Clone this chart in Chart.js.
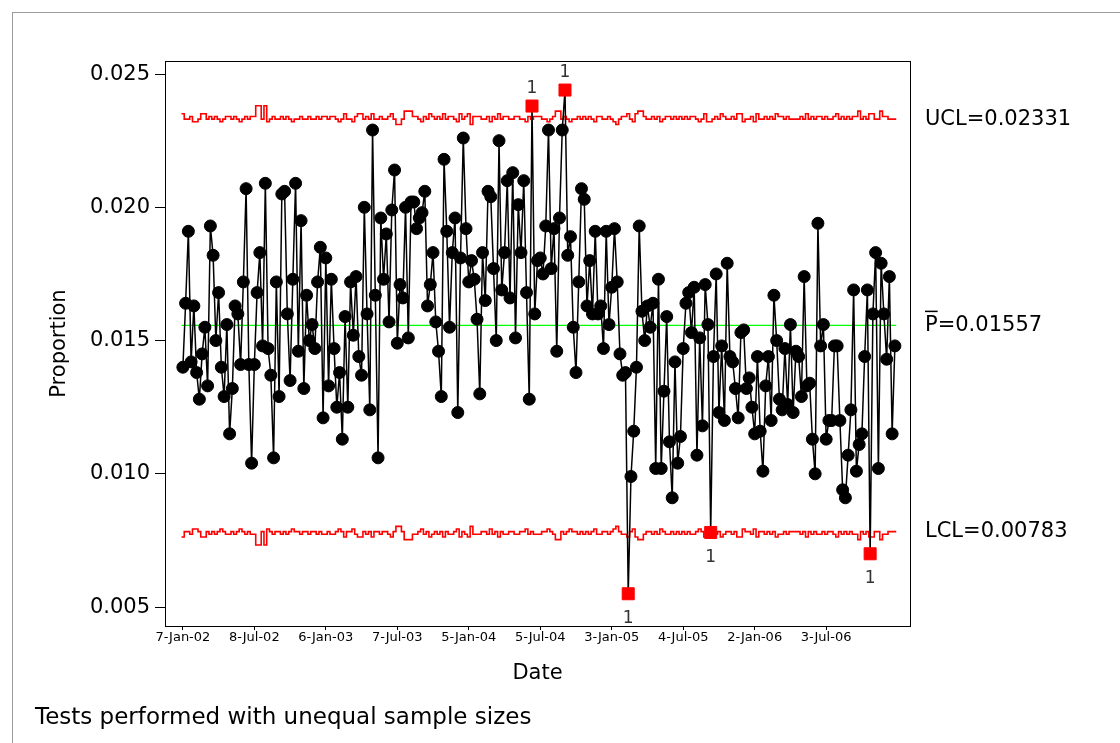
<!DOCTYPE html>
<html>
<head>
<meta charset="utf-8">
<script src="https://cdn.jsdelivr.net/npm/chart.js@4.4.0/dist/chart.umd.min.js"></script>
<style>
  html, body { margin: 0; padding: 0; background: #fff; }
  #wrap { position: relative; width: 1120px; height: 743px; overflow: hidden; }
  #frame { position: absolute; left: 12px; top: 12px; width: 1120px; height: 743px; border: 1px solid #9a9a9a; box-sizing: border-box; }
  #chart { position: absolute; left: 0; top: 0; }
  #note { position: absolute; left: 35px; top: 703px; font: 23px "DejaVu Sans"; color: #000; }
</style>
</head>
<body>
<div id="wrap">
  <div id="frame"></div>
  <canvas id="chart" width="1120" height="743"></canvas>
  <div id="note">Tests performed with unequal sample sizes</div>
</div>
<script>
// weekly samples, 7-Jan-02 onwards
const tickWeeks = [0, 26, 52, 78, 104, 130, 156, 182, 208, 234];
const tickLabels = ['7-Jan-02', '8-Jul-02', '6-Jan-03', '7-Jul-03', '5-Jan-04',
  '5-Jul-04', '3-Jan-05', '4-Jul-05', '2-Jan-06', '3-Jul-06'];
const yTickValues = [0.005, 0.010, 0.015, 0.020, 0.025];

const proportion = [
  0.0140, 0.0164, 0.0191, 0.0142, 0.0163, 0.0138, 0.0128, 0.0145, 0.0155, 0.0133,
  0.0193, 0.0182, 0.0150, 0.0168, 0.0140, 0.0129, 0.0156, 0.0115, 0.0132, 0.0163,
  0.0160, 0.0141, 0.0172, 0.0207, 0.0141, 0.0104, 0.0141, 0.0168, 0.0183, 0.0148,
  0.0209, 0.0147, 0.0137, 0.0106, 0.0172, 0.0129, 0.0205, 0.0206, 0.0160, 0.0135,
  0.0173, 0.0209, 0.0146, 0.0195, 0.0132, 0.0167, 0.0150, 0.0156, 0.0147, 0.0172,
  0.0185, 0.0121, 0.0181, 0.0133, 0.0173, 0.0147, 0.0125, 0.0138, 0.0113, 0.0159,
  0.0125, 0.0172, 0.0152, 0.0174, 0.0144, 0.0137, 0.0200, 0.0160, 0.0124, 0.0229,
  0.0167, 0.0106, 0.0196, 0.0173, 0.0190, 0.0157, 0.0199, 0.0214, 0.0149, 0.0171,
  0.0166, 0.0200, 0.0151, 0.0202, 0.0202, 0.0192, 0.0196, 0.0198, 0.0206, 0.0163,
  0.0171, 0.0183, 0.0157, 0.0146, 0.0129, 0.0218, 0.0191, 0.0155, 0.0183, 0.0196,
  0.0123, 0.0181, 0.0226, 0.0192, 0.0172, 0.0180, 0.0173, 0.0158, 0.0130, 0.0183,
  0.0165, 0.0206, 0.0204, 0.0177, 0.0150, 0.0225, 0.0169, 0.0183, 0.0210, 0.0166,
  0.0213, 0.0151, 0.0201, 0.0183, 0.0210, 0.0168, 0.0128, 0.0238, 0.0160, 0.0180,
  0.0181, 0.0175, 0.0193, 0.0229, 0.0177, 0.0192, 0.0146, 0.0196, 0.0229, 0.0244,
  0.0182, 0.0189, 0.0155, 0.0138, 0.0172, 0.0207, 0.0203, 0.0163, 0.0180, 0.0160,
  0.0191, 0.0160, 0.0163, 0.0147, 0.0191, 0.0156, 0.0170, 0.0192, 0.0172, 0.0145,
  0.0137, 0.0138, 0.0055, 0.0099, 0.0116, 0.0140, 0.0193, 0.0161, 0.0150, 0.0163,
  0.0155, 0.0164, 0.0102, 0.0173, 0.0102, 0.0131, 0.0159, 0.0112, 0.0091, 0.0142,
  0.0104, 0.0114, 0.0147, 0.0164, 0.0168, 0.0153, 0.0170, 0.0107, 0.0151, 0.0118,
  0.0171, 0.0156, 0.0078, 0.0144, 0.0175, 0.0123, 0.0148, 0.0120, 0.0179, 0.0144,
  0.0142, 0.0132, 0.0121, 0.0153, 0.0154, 0.0132, 0.0136, 0.0125, 0.0115, 0.0144,
  0.0116, 0.0101, 0.0133, 0.0144, 0.0120, 0.0167, 0.0150, 0.0128, 0.0124, 0.0147,
  0.0126, 0.0156, 0.0123, 0.0146, 0.0144, 0.0129, 0.0174, 0.0133, 0.0134, 0.0113,
  0.0100, 0.0194, 0.0148, 0.0156, 0.0113, 0.0120, 0.0120, 0.0148, 0.0148, 0.0120,
  0.0094, 0.0091, 0.0107, 0.0124, 0.0169, 0.0101, 0.0111, 0.0115, 0.0144, 0.0169,
  0.0070, 0.0160, 0.0183, 0.0102, 0.0179, 0.0160, 0.0143, 0.0174, 0.0115, 0.0148
];

// how far each sample's limits sit from the nominal ones (units of 0.0001)
const limitSpread = [
  2, 2, 0, 0, 1, -1, -1, 0, 2, 2, 0, 1, 0, 1, 0, -1, 0, 1, 1, 0, 1,
  0, -1, 0, 1, 0, 1, 1, 5, 5, 0, 5, -1, 0, 1, 0, 0, 1, 0, 1, 0, -1, 0, 0, 1, 0,
  0, 1, 0, 0, 1, 0, 1, 1, 0, 1, 1, 0, -1, 0, 2, 0, 0, -1, 1, 2, 2, 0, 1, 0, 2,
  0, 0, 1, 0, 0, 1, 2, 0, -2, -2, 0, 3, 3, 3, 1, 1, 0, -1, 1, 0, 2, 1, 0, 1, 0,
  2, 0, 1, 1, 0, -1, 2, 0, 1, 2, -2, 1, 1, 1, 0, 0, 1, -1, 1, 0, 2, 0, 1, 1, 0,
  0, 1, 1, 0, 0, -1, 1, 0, 1, 1, 1, 0, 0, -1, 0, 1, 3, 3, 0, 1, 0, -1, 0, 0, 1,
  0, 1, 0, 1, 0, -1, 1, 1, 0, 0, 1, 0, -1, -2, 0, 1, 1, 2, 0, -1, 2, 3, 3, 1, 0,
  0, 1, 0, 1, -1, 0, 1, 1, 0, 1, 0, 1, 0, 1, 0, 1, 1, 0, -1, 0, 2, -1, -1, 0, 1,
  0, 2, 1, 0, 0, 1, 0, 2, 2, -1, 0, 0, 1, -1, 2, 0, 0, 1, 0, 1, 0, 2, 1, 1, 0,
  1, 0, 0, 0, 0, 1, 0, 2, 0, 1, 0, 1, 1, 0, 1, 0, 0, 1, 2, 0, 1, 0, 1, 0, 1,
  1, 3, 0, 1, 0, 2, 2, 0, 0, 3, 1, 1, 0, 0
];

const pBar = 0.01557;
const ucl = 0.02331;
const lcl = 0.00783;

const FONT = 'DejaVu Sans';

/* ================= SERIES ================= */
const n = proportion.length;
const points = proportion.map((v, i) => ({ x: i, y: v }));

const uclLine = [], lclLine = [], centerLine = [];
for (let i = 0; i <= n; i++) {
  const s = (limitSpread[Math.min(i, n - 1)] || 0) * 0.0001;
  uclLine.push({ x: i - 0.5, y: ucl + s });
  lclLine.push({ x: i - 0.5, y: lcl - s });
  centerLine.push({ x: i - 0.5, y: pBar });
}

const outOfControl = proportion.map((v, i) => {
  const s = (limitSpread[i] || 0) * 0.0001;
  if (v > ucl + s) return 'up';
  if (v < lcl - s) return 'down';
  return null;
});

/* ================= PLUGINS ================= */
const decorPlugin = {
  id: 'decor',
  afterDatasetsDraw(chart) {
    const { ctx, chartArea: a, scales: { x, y } } = chart;
    ctx.save();

    // frame round the plot
    ctx.strokeStyle = '#000';
    ctx.lineWidth = 1;
    ctx.strokeRect(a.left + 0.5, a.top + 0.5, a.right - a.left, a.bottom - a.top);

    // "1" flags at the out-of-control points
    ctx.font = '17px "' + FONT + '"';
    ctx.fillStyle = '#333';
    ctx.textAlign = 'center';
    ctx.textBaseline = 'middle';
    outOfControl.forEach((dir, i) => {
      if (!dir) return;
      const px = x.getPixelForValue(i);
      const py = y.getPixelForValue(proportion[i]);
      ctx.fillText('1', px, dir === 'up' ? py - 17 : py + 25);
    });

    // limit labels to the right
    ctx.font = '21px "' + FONT + '"';
    ctx.fillStyle = '#000';
    ctx.textAlign = 'left';
    const lx = a.right + 15;
    ctx.fillText('UCL=' + ucl.toFixed(5), lx, y.getPixelForValue(ucl));
    ctx.fillText('LCL=' + lcl.toFixed(5), lx, y.getPixelForValue(lcl));
    const py = y.getPixelForValue(pBar);
    ctx.fillText('P=' + pBar.toFixed(5), lx, py);
    const pw = ctx.measureText('P').width;
    ctx.beginPath();
    ctx.lineWidth = 1.5;
    ctx.moveTo(lx, py - 14);
    ctx.lineTo(lx + pw, py - 14);
    ctx.stroke();

    ctx.restore();
  }
};

/* ================= CHART ================= */
new Chart(document.getElementById('chart').getContext('2d'), {
  type: 'line',
  data: {
    datasets: [
      {
        data: points,
        borderColor: '#000',
        borderWidth: 1.5,
        pointStyle: outOfControl.map(d => d ? 'rect' : 'circle'),
        pointRadius: outOfControl.map(d => d ? 8.5 : 6),
        pointBackgroundColor: outOfControl.map(d => d ? '#ff0000' : '#000'),
        pointBorderColor: outOfControl.map(d => d ? '#ff0000' : '#000'),
        pointBorderWidth: 1,
        tension: 0,
        order: 0
      },
      {
        data: uclLine,
        borderColor: '#ff0000',
        borderWidth: 1.6,
        stepped: 'after',
        pointRadius: 0,
        order: 1
      },
      {
        data: lclLine,
        borderColor: '#ff0000',
        borderWidth: 1.6,
        stepped: 'after',
        pointRadius: 0,
        order: 1
      },
      {
        data: centerLine,
        borderColor: '#00ff00',
        borderWidth: 1.3,
        pointRadius: 0,
        order: 2
      }
    ]
  },
  options: {
    responsive: false,
    animation: false,
    layout: { padding: { left: 47, top: 61, right: 210, bottom: 55 } },
    plugins: {
      legend: { display: false },
      tooltip: { enabled: false }
    },
    scales: {
      x: {
        type: 'linear',
        min: -6.5,
        max: 264.5,
        afterFit: s => { s.height = 62; },
        afterBuildTicks: s => { s.ticks = tickWeeks.map(v => ({ value: v })); },
        grid: { drawOnChartArea: false, tickLength: 4, color: '#000' },
        border: { color: '#000' },
        ticks: {
          autoSkip: false,
          maxRotation: 0,
          padding: 0,
          color: '#000',
          font: { family: FONT, size: 13 },
          callback: v => {
            const k = tickWeeks.indexOf(v);
            return k >= 0 ? tickLabels[k] : '';
          }
        },
        title: {
          display: true,
          text: 'Date',
          color: '#000',
          font: { family: FONT, size: 21 },
          padding: { top: 2, bottom: 2 }
        }
      },
      y: {
        min: 0.00429,
        max: 0.02549,
        afterFit: s => { s.width = 118; },
        afterBuildTicks: s => { s.ticks = yTickValues.map(v => ({ value: v })); },
        grid: { drawOnChartArea: false, tickLength: 10, color: '#000' },
        border: { color: '#000' },
        ticks: {
          padding: 5,
          color: '#000',
          font: { family: FONT, size: 21 },
          callback: v => v.toFixed(3)
        },
        title: {
          display: true,
          text: 'Proportion',
          color: '#000',
          font: { family: FONT, size: 21 },
          padding: { top: 0, bottom: 4 }
        }
      }
    }
  },
  plugins: [decorPlugin]
});
</script>
</body>
</html>
